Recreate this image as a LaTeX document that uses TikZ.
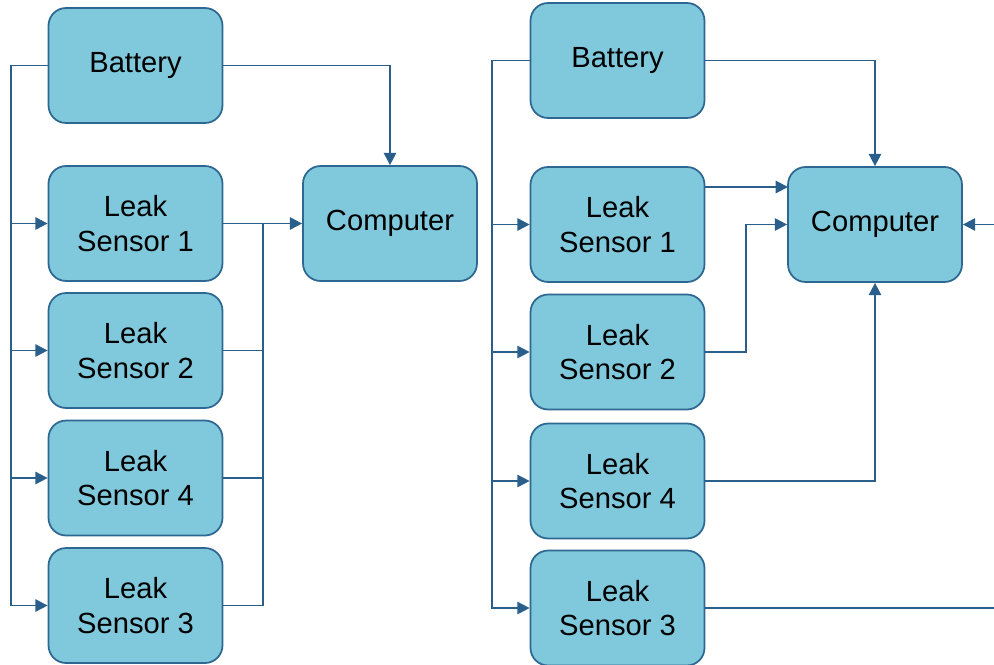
\documentclass[tikz,border=0pt]{standalone}
\usepackage{fontspec}
\setmainfont{Liberation Sans}
\usetikzlibrary{arrows.meta,positioning}

\definecolor{boxfill}{HTML}{80C8DC}
\definecolor{boxline}{HTML}{2E6892}
\definecolor{wirecol}{HTML}{2A5F8B}

\begin{document}
\begin{tikzpicture}[x=0.02cm,y=-0.02cm,>={Triangle[length=7pt,width=7pt]},
  block/.style={draw=boxline,line width=1pt,fill=boxfill,rounded corners=10pt,
    minimum width=3.48cm,minimum height=2.3cm,align=center,
    font=\fontsize{16.6}{19.6}\selectfont},
  link/.style={draw=wirecol,line width=1.1pt}]
  \useasboundingbox (0,0) rectangle (994,664);

  % first layout: all sensors share one line to the computer
  \node[block] (bat) at (135.5,65.5) {Battery};
  \node[block] (s1) at (135.5,223.5) {Leak\\Sensor 1};
  \node[block] (s2) at (135.5,350.5) {Leak\\Sensor 2};
  \node[block] (s4) at (135.5,478) {Leak\\Sensor 4};
  \node[block] (s3) at (135.5,605.5) {Leak\\Sensor 3};
  \node[block] (comp) at (390,223.5) {Computer};
  \coordinate (pwr) at (11,65.5);
  \coordinate (bus) at (263,223.5);

  \draw[link,->] (bat.west) -- (pwr) |- (s3.west);
  \foreach \s in {s1,s2,s4}
    \draw[link,->] (pwr |- \s.west) -- (\s.west);
  \draw[link,->] (bat.east) -| (comp.north);
  \draw[link,->] (s1.east) -- (comp.west);
  \draw[link] (s3.east) -| (bus);
  \foreach \s in {s2,s4}
    \draw[link] (\s.east) -- (bus |- \s.east);

  % second layout: each sensor has its own input
  \node[block] (rbat) at (617.5,60.5) {Battery};
  \node[block] (rs1) at (617.5,224.5) {Leak\\Sensor 1};
  \node[block] (rs2) at (617.5,352) {Leak\\Sensor 2};
  \node[block] (rs4) at (617.5,481) {Leak\\Sensor 4};
  \node[block] (rs3) at (617.5,608) {Leak\\Sensor 3};
  \node[block] (rcomp) at (875,224.5) {Computer};
  \coordinate (rpwr) at (492,60.5);
  \coordinate (rin1) at (788,187);
  \coordinate (rjog) at (746,224.5);
  \coordinate (rext) at (994,224.5);
  \coordinate (rout) at (994,608);

  \draw[link,->] (rbat.west) -- (rpwr) |- (rs3.west);
  \foreach \s in {rs1,rs2,rs4}
    \draw[link,->] (rpwr |- \s.west) -- (\s.west);
  \draw[link,->] (rbat.east) -| (rcomp.north);
  \draw[link,->] (rs1.east |- rin1) -- (rin1);
  \draw[link,->] (rs2.east) -| (rjog) -- (rcomp.west);
  \draw[link,->] (rs4.east) -| (rcomp.south);
  \draw[link,->] (rext) -- (rcomp.east);
  \draw[link] (rs3.east) -- (rout);
\end{tikzpicture}
\end{document}
